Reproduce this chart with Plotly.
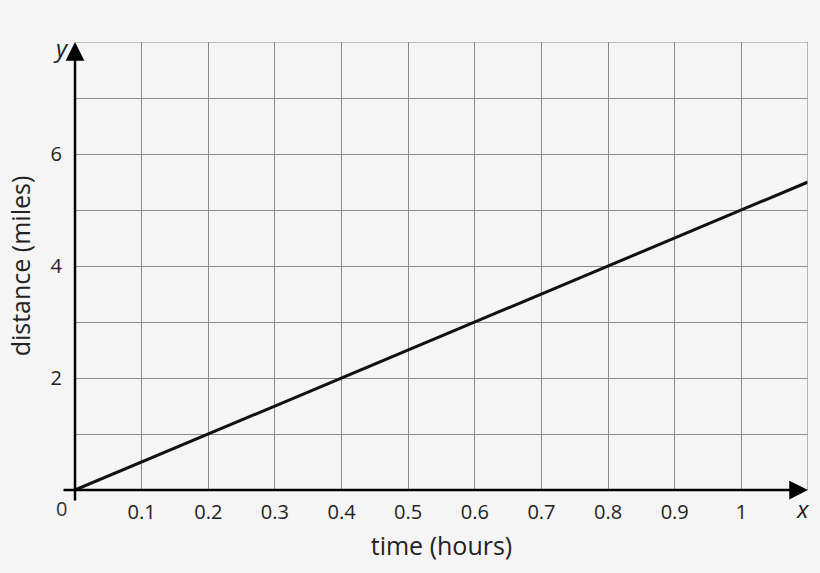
import plotly.graph_objects as go

# data
time_hours = [0, 1.1]
distance_miles = [0, 5.5]

x_ticks = [0, 0.1, 0.2, 0.3, 0.4, 0.5, 0.6, 0.7, 0.8, 0.9, 1.0, 1.1]
x_labels = ["", "0.1", "0.2", "0.3", "0.4", "0.5", "0.6", "0.7", "0.8", "0.9", "1", ""]
y_ticks = [0, 1, 2, 3, 4, 5, 6, 7, 8]
y_labels = ["", "", "2", "", "4", "", "6", "", ""]

FONT = "Open Sans"
BG = "#f5f5f5"
TXT = "#222222"

fig = go.Figure()
fig.add_trace(go.Scatter(x=time_hours, y=distance_miles, mode="lines",
                         line=dict(color="#111111", width=3), showlegend=False,
                         hoverinfo="skip"))

fig.update_layout(
    width=820, height=573,
    paper_bgcolor=BG, plot_bgcolor=BG,
    margin=dict(l=75, r=12, t=42, b=83),
    font=dict(family=FONT, color=TXT, size=20),
    xaxis=dict(range=[0, 1.1], tickmode="array", tickvals=x_ticks, ticktext=x_labels,
               showgrid=True, gridcolor="#8a8a8a", gridwidth=1, zeroline=False,
               showline=False, ticks="outside", ticklen=4, tickcolor="rgba(0,0,0,0)",
               tickfont=dict(size=20, color=TXT),
               title=dict(text="time (hours)", font=dict(size=25, color=TXT), standoff=13),
               fixedrange=True),
    yaxis=dict(range=[0, 8], tickmode="array", tickvals=y_ticks, ticktext=y_labels,
               showgrid=True, gridcolor="#8a8a8a", gridwidth=1, zeroline=False,
               showline=False, ticks="outside", ticklen=8, tickcolor="rgba(0,0,0,0)",
               tickfont=dict(size=20, color=TXT),
               title=dict(text="distance (miles)", font=dict(size=25, color=TXT), standoff=12),
               fixedrange=True),
)

# border lines at far edges
fig.add_shape(type="line", xref="x", yref="y", x0=1.1, x1=1.1, y0=0, y1=8,
              line=dict(color="#a0a0a0", width=1.5))
fig.add_shape(type="line", xref="x", yref="y", x0=0, x1=1.1, y0=8, y1=8,
              line=dict(color="#8a8a8a", width=1))

# axes with arrows (tails extend slightly past the origin)
fig.add_annotation(x=1.1, y=0, ax=-746, ay=0, xref="x", yref="y",
                   showarrow=True, arrowhead=2, arrowsize=1.5, arrowwidth=2.5,
                   arrowcolor="#000000", text="")
fig.add_annotation(x=0, y=8, ax=0, ay=460, xref="x", yref="y",
                   showarrow=True, arrowhead=2, arrowsize=1.5, arrowwidth=2.5,
                   arrowcolor="#000000", text="")

# axis letters (paper coordinates so they can sit outside the data range)
def px(xp, yp):
    return (xp - 75) / 733, (490 - yp) / 448

for txt, (cx, cy), size, col in [("<i>x</i>", (803, 509), 24, TXT),
                                 ("<i>y</i>", (61, 47), 24, TXT),
                                 ("0", (61, 508), 20, "#333333")]:
    xx, yy = px(cx, cy)
    fig.add_annotation(x=xx, y=yy, xref="paper", yref="paper", text=txt,
                       showarrow=False, xanchor="center", yanchor="middle",
                       font=dict(family=FONT, size=size, color=col))

fig.write_html("out.html", config={"displayModeBar": False},
               post_script="document.body.style.margin='0';document.body.style.background='#f5f5f5';")
